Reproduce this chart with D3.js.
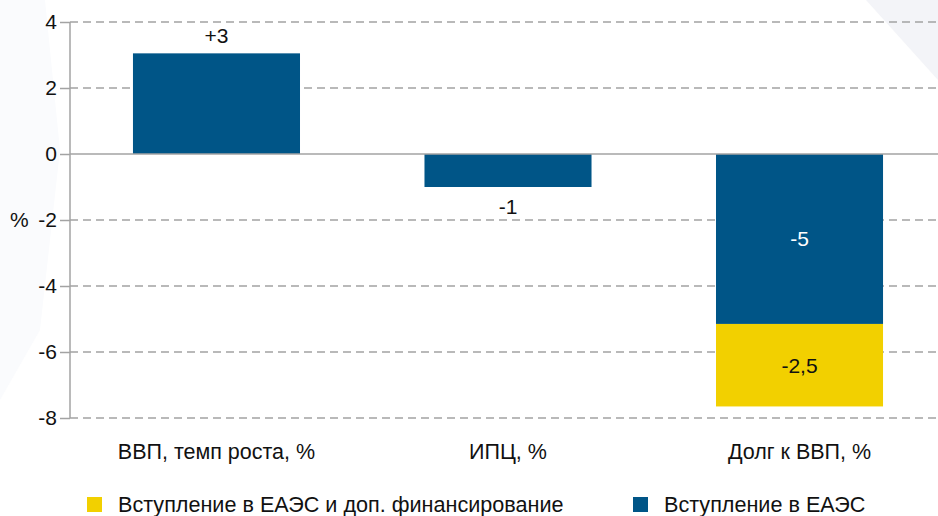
<!DOCTYPE html>
<html>
<head>
<meta charset="utf-8">
<script src="https://cdn.jsdelivr.net/npm/d3@7"></script>
<style>
  body { margin: 0; background: #fff; }
  svg { display: block; font-family: "Liberation Sans", Arial, sans-serif; }
</style>
</head>
<body>
<svg id="chart" width="938" height="516"></svg>
<script>
// data
var categories = ["ВВП, темп роста, %", "ИПЦ, %", "Долг к ВВП, %"];
var eaeuValues = [3.05, -1.0, -5.15];
var extraValues = [0, 0, -2.5];
var eaeuLabels = ["+3", "-1", "-5"];
var extraLabels = ["", "", "-2,5"];
var yTicks = [4, 2, 0, -2, -4, -6, -8];
var legendNames = ["Вступление в ЕАЭС и доп. финансирование", "Вступление в ЕАЭС"];

var blue = "#005587", yellow = "#f2d000", grid = "#a3a3a3";

var svg = d3.select("#chart"),
    width = +svg.attr("width"),
    left = 70;

// faint background shapes
svg.append("path")
    .attr("d", "M866,0 L938,0 L938,80 Z")
    .attr("fill", "#f3f4f8");
svg.append("path")
    .attr("d", "M0,0 L45,0 L60,150 L40,330 L0,400 Z")
    .attr("fill", "#fafbfd");

var data = categories.map(function(c, i) {
  return {cat: c, eaeu: eaeuValues[i], extra: extraValues[i], i: i};
});

var x = d3.scaleBand()
    .domain(categories)
    .range([left, 946])
    .paddingInner(0.427)
    .paddingOuter(0.216);

var y = d3.scaleLinear()
    .domain([-8, 4])
    .range([418, 22]);

// gridlines
svg.append("g")
  .selectAll("line")
  .data(yTicks.filter(function(d) { return d !== 0; }))
  .enter().append("line")
    .attr("x1", left).attr("x2", 936)
    .attr("y1", function(d) { return y(d); })
    .attr("y2", function(d) { return y(d); })
    .attr("stroke", grid)
    .attr("stroke-width", 1.5)
    .attr("stroke-dasharray", "8,5");

// y axis
var yAxis = svg.append("g")
    .attr("transform", "translate(" + left + ",0)")
    .call(d3.axisLeft(y).tickValues(yTicks).tickSize(10).tickPadding(3)
      .tickFormat(function(d) { return String(d); }));
yAxis.select(".domain").attr("stroke", grid).attr("stroke-width", 1.5)
    .attr("d", "M0," + y(4) + "V" + y(-8));
yAxis.selectAll(".tick line").attr("stroke", grid).attr("stroke-width", 1.5);
yAxis.selectAll(".tick text")
    .attr("fill", "#111")
    .style("font-size", "21px")
    .style("font-family", "'Liberation Sans', Arial, sans-serif");

svg.append("text")
    .attr("x", 10)
    .attr("y", y(-2))
    .attr("dy", "0.35em")
    .attr("fill", "#111")
    .style("font-size", "21px")
    .text("%");

// stacked bars
var stack = d3.stack()
    .keys(["eaeu", "extra"])
    .offset(d3.stackOffsetDiverging);
var color = d3.scaleOrdinal().domain(["eaeu", "extra"]).range([blue, yellow]);

svg.append("g")
  .selectAll("g")
  .data(stack(data))
  .enter().append("g")
    .attr("fill", function(d) { return color(d.key); })
  .selectAll("rect")
  .data(function(d) { return d; })
  .enter().append("rect")
    .attr("x", function(d) { return x(d.data.cat); })
    .attr("y", function(d) { return y(Math.max(d[0], d[1])); })
    .attr("height", function(d) { return Math.abs(y(d[0]) - y(d[1])); })
    .attr("width", x.bandwidth());

// zero line
svg.append("line")
    .attr("x1", left).attr("x2", width)
    .attr("y1", y(0)).attr("y2", y(0))
    .attr("stroke", grid)
    .attr("stroke-width", 1.5);

// value labels
var labels = svg.append("g").style("font-size", "21px").attr("text-anchor", "middle");

labels.selectAll(".blue-label")
  .data(data)
  .enter().append("text")
    .attr("class", "blue-label")
    .attr("x", function(d) { return x(d.cat) + x.bandwidth() / 2; })
    .attr("y", function(d) {
      if (d.extra !== 0) return y(d.eaeu / 2);
      return d.eaeu > 0 ? y(d.eaeu) - 10 : y(d.eaeu) + 12;
    })
    .attr("dy", function(d) {
      if (d.extra !== 0) return "0.35em";
      return d.eaeu > 0 ? "0" : "0.72em";
    })
    .attr("fill", function(d) { return d.extra !== 0 ? "#fff" : "#111"; })
    .text(function(d) { return eaeuLabels[d.i]; });

labels.selectAll(".yellow-label")
  .data(data.filter(function(d) { return d.extra !== 0; }))
  .enter().append("text")
    .attr("class", "yellow-label")
    .attr("x", function(d) { return x(d.cat) + x.bandwidth() / 2; })
    .attr("y", function(d) { return y(d.eaeu + d.extra / 2); })
    .attr("dy", "0.35em")
    .attr("fill", "#111")
    .text(function(d) { return extraLabels[d.i]; });

// category labels
svg.append("g")
  .selectAll("text")
  .data(categories)
  .enter().append("text")
    .attr("x", function(d) { return x(d) + x.bandwidth() / 2; })
    .attr("y", 459)
    .attr("text-anchor", "middle")
    .attr("fill", "#111")
    .style("font-size", "21.5px")
    .text(function(d) { return d; });

// legend
var legend = svg.append("g")
  .selectAll("g")
  .data(legendNames)
  .enter().append("g")
    .attr("transform", function(d, i) { return "translate(" + (i === 0 ? 87 : 633) + ",497)"; });

legend.append("rect")
    .attr("width", 15)
    .attr("height", 15)
    .attr("fill", function(d, i) { return i === 0 ? yellow : blue; });

legend.append("text")
    .attr("x", 31)
    .attr("y", 15)
    .attr("fill", "#111")
    .style("font-size", "21.6px")
    .text(function(d) { return d; });
</script>
</body>
</html>
